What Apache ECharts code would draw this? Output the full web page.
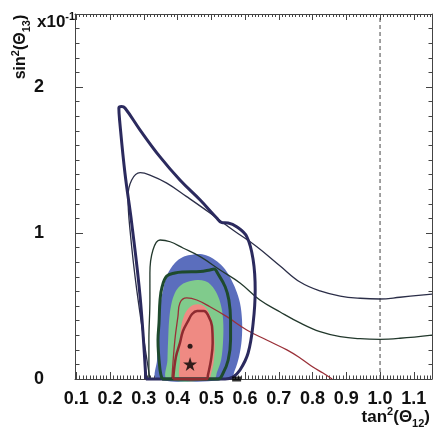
<!DOCTYPE html>
<html>
<head>
<meta charset="utf-8">
<script src="https://cdn.jsdelivr.net/npm/echarts@6/dist/echarts.min.js"></script>
<style>
  html, body { margin: 0; padding: 0; background: #fff; }
  #chart { width: 434px; height: 432px; }
</style>
</head>
<body>
<div id="chart"></div>
<script>
// Axis ranges (sin^2 values are in units of 1e-1)
const X_MIN = 0.096, X_MAX = 1.154;
const Y_MIN = 0, Y_MAX = 2.5;
const X_TICKS = [0.1, 0.2, 0.3, 0.4, 0.5, 0.6, 0.7, 0.8, 0.9, 1.0, 1.1];
const Y_TICKS = [0, 1, 2];
const X_MINOR = [];
for (let k = 10; k <= 115; k++) X_MINOR.push(k / 100);
const Y_MINOR = [];
for (let k = 0; k <= 25; k++) Y_MINOR.push(k / 10);

// Filled confidence regions (combined analysis)
const regionOuter = [[0.339,0],[0.339,0.130],[0.342,0.301],[0.348,0.493],[0.357,0.610],[0.369,0.712],[0.392,0.795],[0.416,0.836],[0.437,0.849],[0.467,0.856],[0.490,0.842],[0.511,0.815],[0.535,0.767],[0.555,0.699],[0.573,0.610],[0.585,0.521],[0.591,0.404],[0.590,0.267],[0.582,0.151],[0.570,0.062],[0.555,0]];
const regionMiddle = [[0.369,0],[0.370,0.130],[0.372,0.267],[0.375,0.404],[0.381,0.507],[0.392,0.589],[0.407,0.637],[0.428,0.664],[0.458,0.678],[0.481,0.671],[0.499,0.644],[0.517,0.582],[0.529,0.500],[0.535,0.404],[0.535,0.267],[0.529,0.130],[0.517,0.048],[0.508,0]];
const regionInner = [[0.410,0],[0.407,0.130],[0.407,0.233],[0.410,0.349],[0.419,0.432],[0.431,0.479],[0.446,0.507],[0.467,0.510],[0.481,0.493],[0.493,0.452],[0.504,0.370],[0.510,0.233],[0.507,0.116],[0.499,0.034],[0.493,0]];

// Closed contours
const contourWide = [[0.306,0],[0.289,0.562],[0.264,1.068],[0.244,1.411],[0.229,1.753],[0.226,1.856],[0.234,1.866],[0.244,1.856],[0.289,1.705],[0.348,1.521],[0.407,1.363],[0.467,1.226],[0.516,1.103],[0.531,1.071],[0.550,1.068],[0.575,1.043],[0.605,0.975],[0.624,0.815],[0.630,0.610],[0.624,0.384],[0.609,0.178],[0.585,0.062],[0.564,0.014],[0.541,0]];
const contourGreen = [[0.354,0],[0.348,0.062],[0.342,0.267],[0.345,0.384],[0.348,0.541],[0.354,0.630],[0.368,0.705],[0.392,0.726],[0.416,0.733],[0.467,0.736],[0.496,0.747],[0.508,0.753],[0.520,0.719],[0.541,0.632],[0.552,0.541],[0.557,0.404],[0.557,0.267],[0.550,0.130],[0.535,0.041],[0.520,0]];
const contourRed = [[0.387,0],[0.395,0.151],[0.407,0.247],[0.416,0.329],[0.431,0.397],[0.443,0.445],[0.458,0.466],[0.478,0.466],[0.490,0.438],[0.502,0.363],[0.504,0.247],[0.499,0.130],[0.490,0.027],[0.487,0]];

// Open contours leaving the frame
const lineUpper = [[0.318,0],[0.279,0.610],[0.259,1.021],[0.253,1.247],[0.264,1.363],[0.289,1.413],[0.318,1.397],[0.368,1.342],[0.427,1.249],[0.496,1.137],[0.564,1.021],[0.635,0.906],[0.704,0.774],[0.763,0.664],[0.822,0.603],[0.882,0.568],[0.941,0.553],[1.000,0.548],[1.059,0.560],[1.154,0.582]];
const lineLower = [[0.315,0],[0.315,0.267],[0.318,0.541],[0.318,0.726],[0.327,0.884],[0.348,0.952],[0.378,0.940],[0.416,0.897],[0.467,0.838],[0.526,0.747],[0.585,0.658],[0.644,0.541],[0.704,0.459],[0.763,0.384],[0.822,0.324],[0.882,0.290],[0.941,0.276],[1.000,0.272],[1.059,0.279],[1.154,0.301]];
const lineRedThin = [[0.383,0],[0.392,0.267],[0.401,0.427],[0.407,0.521],[0.427,0.555],[0.457,0.541],[0.496,0.495],[0.546,0.427],[0.605,0.336],[0.664,0.267],[0.724,0.199],[0.763,0.144],[0.801,0.082],[0.831,0.041],[0.858,0]];

// Best fit points and reference marks
const bestFit = [[0.437, 0.102]];
const altFit = [[0.437, 0.225]];
const baseMark = [[0.575, 0]];
const maximalLine = [[1.0, 0], [1.0, 2.5]];

const TEXT = '#111';
const FONT = '"Liberation Sans", Arial, sans-serif';
const FRAME = '#444';

function fillSeries(points, color) {
  return {
    type: 'custom', xAxisIndex: 0, yAxisIndex: 0, data: [0], silent: true, z: 1,
    renderItem: function (params, api) {
      return {
        type: 'polygon',
        shape: { points: points.map(function (p) { return api.coord(p); }), smooth: 0.35 },
        style: { fill: color }
      };
    }
  };
}
function contourSeries(points, color, width, closed) {
  return {
    type: 'line', xAxisIndex: 0, yAxisIndex: 0,
    data: closed ? points.concat([points[0]]) : points,
    smooth: 0.4, symbol: 'none', clip: false, silent: true, z: 3,
    lineStyle: { color: color, width: width }
  };
}
function frameAxis(kind, position, gridIndex, ticks, len, showLine, labels) {
  const isX = kind === 'x';
  return {
    type: 'value', gridIndex: gridIndex, position: position,
    min: isX ? X_MIN : Y_MIN, max: isX ? X_MAX : Y_MAX,
    axisLine: { show: showLine, onZero: false, lineStyle: { color: FRAME, width: 1 } },
    axisTick: { show: true, inside: true, length: len, customValues: ticks, lineStyle: { color: FRAME, width: 1 } },
    axisLabel: labels ? {
      show: true, customValues: ticks, margin: isX ? 11 : 31,
      color: TEXT, fontFamily: FONT, fontWeight: 'bold', fontSize: 18,
      formatter: function (v) { return isX ? v.toFixed(1) : String(Math.round(v)); }
    } : { show: false },
    splitLine: { show: false }
  };
}

const chart = echarts.init(document.getElementById('chart'), null, { renderer: 'canvas' });
const gridBox = { left: 75, top: 14, width: 357, height: 365 };

const supStyle = { fontSize: 11, fontWeight: 'bold', fontFamily: FONT, lineHeight: 10, verticalAlign: 'top', fill: TEXT };
const subStyle = { fontSize: 11, fontWeight: 'bold', fontFamily: FONT, lineHeight: 10, verticalAlign: 'bottom', fill: TEXT };

chart.setOption({
  animation: false,
  backgroundColor: '#fff',
  grid: [Object.assign({}, gridBox), Object.assign({}, gridBox)],
  xAxis: [
    frameAxis('x', 'bottom', 0, X_TICKS, 7, true, true),
    frameAxis('x', 'top', 0, X_TICKS, 6, true, false),
    frameAxis('x', 'bottom', 1, X_MINOR, 3.5, false, false),
    frameAxis('x', 'top', 1, X_MINOR, 3, false, false)
  ],
  yAxis: [
    frameAxis('y', 'left', 0, Y_TICKS, 8, true, true),
    frameAxis('y', 'right', 0, Y_TICKS, 6, true, false),
    frameAxis('y', 'left', 1, Y_MINOR, 4.5, false, false),
    frameAxis('y', 'right', 1, Y_MINOR, 3.5, false, false)
  ],
  series: [
    fillSeries(regionOuter, '#5b6ebd'),
    fillSeries(regionMiddle, '#80cb8c'),
    fillSeries(regionInner, '#ef8a83'),
    {
      type: 'line', xAxisIndex: 0, yAxisIndex: 0, data: maximalLine, symbol: 'none', silent: true, z: 2,
      lineStyle: { color: '#444', width: 1, type: [4, 3] }
    },
    contourSeries(lineUpper, '#2b2e48', 1.3, false),
    contourSeries(lineLower, '#22382c', 1.3, false),
    contourSeries(lineRedThin, '#9a3038', 1.3, false),
    contourSeries(contourWide, '#2b2a5e', 3, true),
    contourSeries(contourGreen, '#1e4a2d', 3, true),
    contourSeries(contourRed, '#8e2b30', 2.5, true),
    {
      type: 'scatter', xAxisIndex: 0, yAxisIndex: 0, data: bestFit, z: 5, silent: true,
      symbol: 'path://M12,0 L14.9,8.6 L24,8.6 L16.6,14 L19.4,22.8 L12,17.4 L4.6,22.8 L7.4,14 L0,8.6 L9.1,8.6 Z',
      symbolSize: 14, itemStyle: { color: '#000' }
    },
    {
      type: 'scatter', xAxisIndex: 0, yAxisIndex: 0, data: altFit, z: 5, silent: true,
      symbol: 'circle', symbolSize: 5, itemStyle: { color: '#000' }
    },
    {
      type: 'scatter', xAxisIndex: 0, yAxisIndex: 0, data: baseMark, z: 5, silent: true, clip: false,
      symbol: 'rect', symbolSize: [9, 5], itemStyle: { color: '#000' }
    }
  ],
  graphic: [
    {
      type: 'text', x: 430, y: 406, z: 10,
      style: {
        text: 'tan{sup|2}(Θ{sub|12})', align: 'right', verticalAlign: 'top',
        fill: TEXT, font: 'bold 17px ' + FONT, lineHeight: 23,
        rich: { sup: supStyle, sub: subStyle }
      }
    },
    {
      type: 'text', x: 21, y: 47, rotation: Math.PI / 2, z: 10,
      style: {
        text: 'sin{sup|2}(Θ{sub|13})', align: 'center', verticalAlign: 'middle',
        fill: TEXT, font: 'bold 16px ' + FONT, lineHeight: 22,
        rich: { sup: supStyle, sub: subStyle }
      }
    },
    {
      type: 'text', x: 37, y: 11, z: 10,
      style: {
        text: 'x10{sup|-1}', align: 'left', verticalAlign: 'top',
        fill: TEXT, font: 'bold 17px ' + FONT, lineHeight: 22,
        rich: { sup: supStyle }
      }
    }
  ]
});
</script>
</body>
</html>
